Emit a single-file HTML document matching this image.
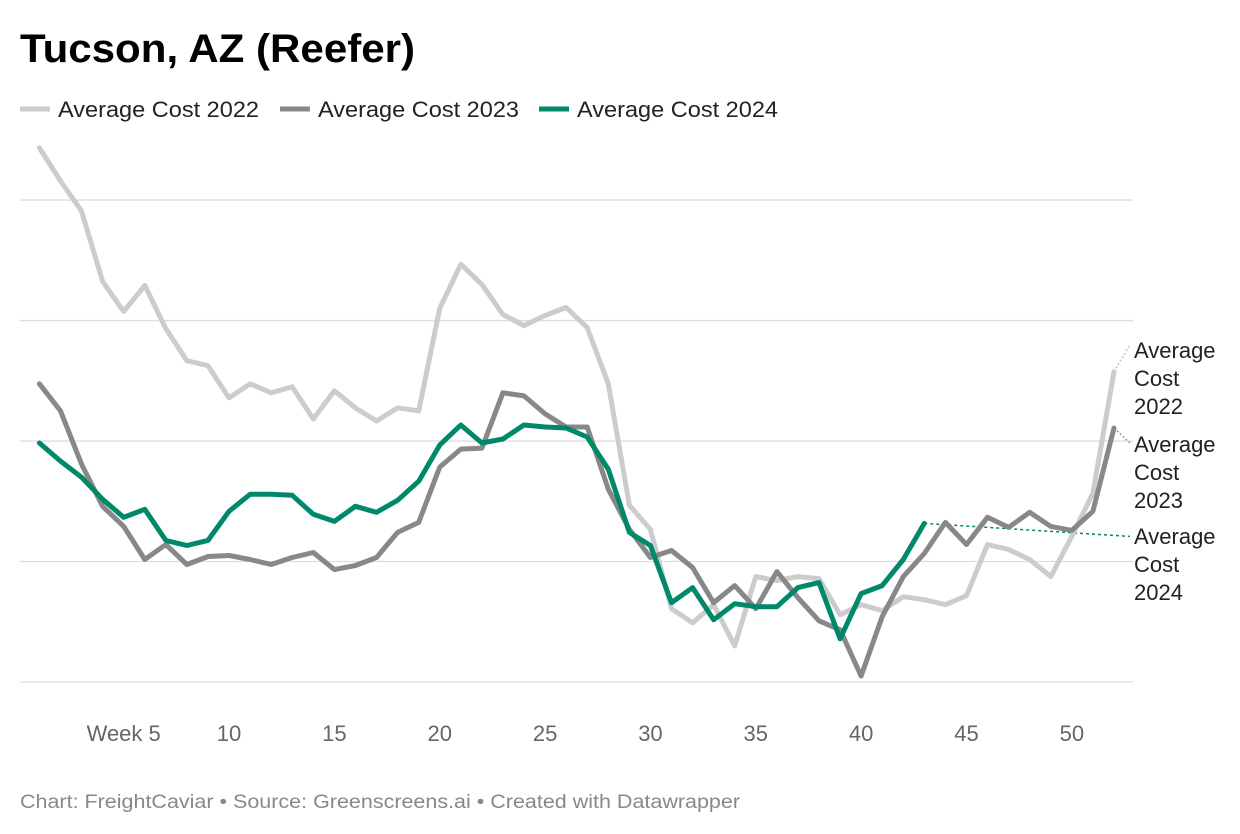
<!DOCTYPE html>
<html><head><meta charset="utf-8">
<style>
body{margin:0;background:#fff;font-family:"Liberation Sans",sans-serif;}
#wrap{position:relative;width:1240px;height:834px;overflow:hidden;}
</style></head>
<body>
<div id="wrap">
<svg id="chart" width="1240" height="834"></svg>
</div>
<script>
const weeks2022 = Array.from({length:52},(_,i)=>i+1);
const cost2022 = [5.32,4.99,4.69,3.99,3.69,3.95,3.52,3.20,3.15,2.83,2.97,2.88,2.94,2.62,2.90,2.73,2.60,2.73,2.70,3.72,4.16,3.96,3.66,3.55,3.65,3.73,3.53,2.97,1.76,1.52,0.73,0.59,0.77,0.36,1.05,1.01,1.05,1.03,0.67,0.77,0.71,0.85,0.82,0.77,0.86,1.37,1.32,1.22,1.05,1.45,1.88,3.09];
const cost2023 = [2.97,2.70,2.17,1.75,1.55,1.22,1.37,1.17,1.25,1.26,1.22,1.17,1.24,1.29,1.12,1.16,1.24,1.49,1.59,2.14,2.32,2.33,2.88,2.85,2.67,2.54,2.54,1.92,1.52,1.24,1.31,1.14,0.79,0.96,0.73,1.10,0.84,0.61,0.52,0.06,0.65,1.05,1.28,1.59,1.37,1.64,1.54,1.69,1.55,1.51,1.70,2.53];
const cost2024 = [2.38,2.20,2.04,1.82,1.64,1.72,1.41,1.36,1.41,1.70,1.87,1.87,1.86,1.67,1.60,1.75,1.69,1.81,2.00,2.36,2.56,2.38,2.42,2.56,2.54,2.53,2.44,2.12,1.49,1.36,0.79,0.94,0.62,0.78,0.75,0.75,0.94,0.99,0.43,0.88,0.96,1.22,1.58];
const trend2024End = [52.75, 1.45];
const xTicks = [5,10,15,20,25,30,35,40,45,50];
const xTickLabels = ["Week 5","10","15","20","25","30","35","40","45","50"];
const yGrid = [0,1.2,2.4,3.6,4.8];

const NS="http://www.w3.org/2000/svg";
const svg=document.getElementById('chart');
const x=w=>39.4+(w-1)*21.07;
const y=v=>682-v*100.4;
function mk(tag,attrs,parent){const e=document.createElementNS(NS,tag);for(const k in attrs)e.setAttribute(k,attrs[k]);(parent||svg).appendChild(e);return e;}

let t=mk('text',{x:20,y:62,'font-size':40,'font-weight':'bold',fill:'#000',textLength:395,lengthAdjust:'spacingAndGlyphs'});t.textContent='Tucson, AZ (Reefer)';



const legend=[["Average Cost 2022","#cccccc",20],["Average Cost 2023","#888888",280],["Average Cost 2024","#00886b",539]];
legend.forEach(([lab,c,lx],i)=>{
  const g=mk('g',{});
  
  
  mk('line',{x1:lx,x2:lx+30,y1:109,y2:109,stroke:c,'stroke-width':5},g);
  const tt=mk('text',{x:lx+38,y:117,'font-size':22,fill:'#222',textLength:201,lengthAdjust:'spacingAndGlyphs'},g);tt.textContent=lab;
});

yGrid.forEach(v=>{
  const l=mk('line',{x1:20,x2:1133,y1:y(v),y2:y(v),stroke:'#dddddd','stroke-width':1.3});
  
  
});

xTicks.forEach((w,i)=>{
  const tt=mk('text',{x:x(w),y:741,'font-size':22,fill:'#666','text-anchor':'middle'});
  tt.textContent=xTickLabels[i];
  
  
});

let c1=mk('line',{x1:x(52),y1:y(cost2022[51]),x2:1130,y2:345,stroke:'#bbb','stroke-width':1.2,'stroke-dasharray':'2,2'});

let c2=mk('line',{x1:x(52),y1:y(cost2023[51]),x2:1130,y2:443,stroke:'#888','stroke-width':1.2,'stroke-dasharray':'2,2'});

let tr=mk('line',{x1:x(cost2024.length),y1:y(cost2024[cost2024.length-1]),x2:x(trend2024End[0]),y2:y(trend2024End[1]),stroke:'#00886b','stroke-width':1.5,'stroke-dasharray':'3,3'});


function series(data,color,name){
  const d=data.map((v,i)=>(i?'L':'M')+x(i+1).toFixed(1)+','+y(v).toFixed(1)).join('');
  const p=mk('path',{d:d,fill:'none',stroke:color,'stroke-width':5,'stroke-linejoin':'round','stroke-linecap':'round'});
  
  
}
series(cost2022,'#cccccc','line-2022');
series(cost2023,'#888888','line-2023');
series(cost2024,'#00886b','line-2024');

[["Average","Cost","2022",358],["Average","Cost","2023",452],["Average","Cost","2024",544]].forEach((ls,i)=>{
  const tt=mk('text',{x:1134,y:ls[3],'font-size':22,fill:'#222'});
  
  
  for(let k=0;k<3;k++){const s=mk('tspan',{x:1134,dy:k?28:0},tt);s.textContent=ls[k];}
});

const f=mk('text',{x:20,y:808,'font-size':19,fill:'#888',textLength:720,lengthAdjust:'spacingAndGlyphs'});
f.textContent='Chart: FreightCaviar • Source: Greenscreens.ai • Created with Datawrapper';


</script>
</body></html>
